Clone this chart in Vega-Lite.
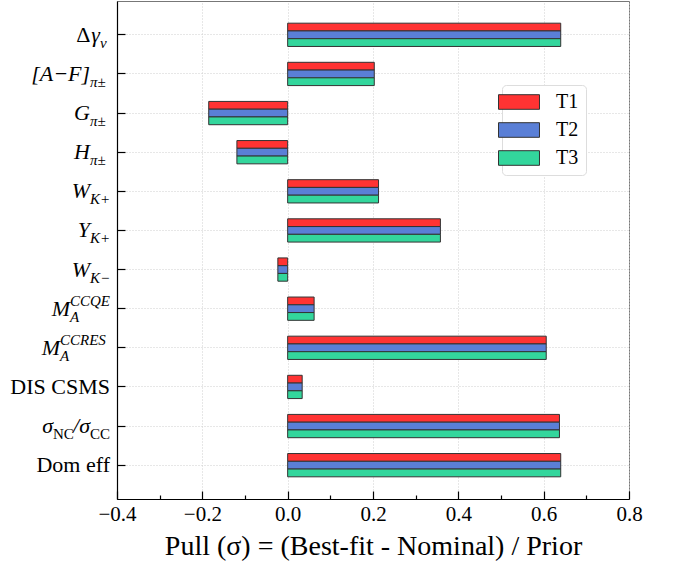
{
  "$schema": "https://vega.github.io/schema/vega-lite/v6.json",
  "width": 512,
  "height": 498,
  "autosize": {"type": "none"},
  "padding": {"left": 117, "top": 1, "right": 47, "bottom": 62},
  "background": "white",
  "config": {
    "font": "Liberation Serif, Times New Roman, Times, serif",
    "view": {"stroke": "#777777", "strokeWidth": 1},
    "axis": {
      "domainColor": "black",
      "domainWidth": 1.2,
      "tickColor": "black",
      "tickWidth": 1.2,
      "labelColor": "black",
      "titleColor": "black",
      "labelFont": "Liberation Serif, Times New Roman, Times, serif",
      "titleFont": "Liberation Serif, Times New Roman, Times, serif",
      "gridColor": "#cfcfcf",
      "gridDash": [1, 2],
      "gridWidth": 1
    },
    "legend": {"labelFont": "Liberation Serif, Times New Roman, Times, serif"},
    "text": {"font": "Liberation Serif, Times New Roman, Times, serif"}
  },
  "datasets": {
    "pulls": [
      {"param": "dgamma_nu", "series": "T1", "pull": 0.640},
      {"param": "dgamma_nu", "series": "T2", "pull": 0.640},
      {"param": "dgamma_nu", "series": "T3", "pull": 0.640},
      {"param": "AF_pi", "series": "T1", "pull": 0.203},
      {"param": "AF_pi", "series": "T2", "pull": 0.203},
      {"param": "AF_pi", "series": "T3", "pull": 0.203},
      {"param": "G_pi", "series": "T1", "pull": -0.185},
      {"param": "G_pi", "series": "T2", "pull": -0.185},
      {"param": "G_pi", "series": "T3", "pull": -0.185},
      {"param": "H_pi", "series": "T1", "pull": -0.119},
      {"param": "H_pi", "series": "T2", "pull": -0.119},
      {"param": "H_pi", "series": "T3", "pull": -0.119},
      {"param": "W_Kplus", "series": "T1", "pull": 0.213},
      {"param": "W_Kplus", "series": "T2", "pull": 0.213},
      {"param": "W_Kplus", "series": "T3", "pull": 0.213},
      {"param": "Y_Kplus", "series": "T1", "pull": 0.358},
      {"param": "Y_Kplus", "series": "T2", "pull": 0.358},
      {"param": "Y_Kplus", "series": "T3", "pull": 0.358},
      {"param": "W_Kminus", "series": "T1", "pull": -0.023},
      {"param": "W_Kminus", "series": "T2", "pull": -0.023},
      {"param": "W_Kminus", "series": "T3", "pull": -0.023},
      {"param": "MA_CCQE", "series": "T1", "pull": 0.062},
      {"param": "MA_CCQE", "series": "T2", "pull": 0.062},
      {"param": "MA_CCQE", "series": "T3", "pull": 0.062},
      {"param": "MA_CCRES", "series": "T1", "pull": 0.606},
      {"param": "MA_CCRES", "series": "T2", "pull": 0.606},
      {"param": "MA_CCRES", "series": "T3", "pull": 0.606},
      {"param": "DIS_CSMS", "series": "T1", "pull": 0.034},
      {"param": "DIS_CSMS", "series": "T2", "pull": 0.034},
      {"param": "DIS_CSMS", "series": "T3", "pull": 0.034},
      {"param": "NC_CC", "series": "T1", "pull": 0.637},
      {"param": "NC_CC", "series": "T2", "pull": 0.637},
      {"param": "NC_CC", "series": "T3", "pull": 0.637},
      {"param": "Dom_eff", "series": "T1", "pull": 0.640},
      {"param": "Dom_eff", "series": "T2", "pull": 0.640},
      {"param": "Dom_eff", "series": "T3", "pull": 0.640}
    ],
    "names": [
      {"param": "dgamma_nu", "pre": "Δ", "base": "γ", "sub": "ν", "sup": "", "base2": "", "sub2": ""},
      {"param": "AF_pi", "pre": "", "base": "[A−F]", "sub": "π±", "sup": "", "base2": "", "sub2": ""},
      {"param": "G_pi", "pre": "", "base": "G", "sub": "π±", "sup": "", "base2": "", "sub2": ""},
      {"param": "H_pi", "pre": "", "base": "H", "sub": "π±", "sup": "", "base2": "", "sub2": ""},
      {"param": "W_Kplus", "pre": "", "base": "W", "sub": "K+", "sup": "", "base2": "", "sub2": ""},
      {"param": "Y_Kplus", "pre": "", "base": "Y", "sub": "K+", "sup": "", "base2": "", "sub2": ""},
      {"param": "W_Kminus", "pre": "", "base": "W", "sub": "K−", "sup": "", "base2": "", "sub2": ""},
      {"param": "MA_CCQE", "pre": "", "base": "M", "sub": "A", "sup": "CCQE", "base2": "", "sub2": ""},
      {"param": "MA_CCRES", "pre": "", "base": "M", "sub": "A", "sup": "CCRES", "base2": "", "sub2": ""},
      {"param": "DIS_CSMS", "pre": "", "base": "DIS CSMS", "sub": "", "sup": "", "base2": "", "sub2": ""},
      {"param": "NC_CC", "pre": "", "base": "σ", "sub": "NC", "sup": "", "base2": "/σ", "sub2": "CC"},
      {"param": "Dom_eff", "pre": "", "base": "Dom eff", "sub": "", "sup": "", "base2": "", "sub2": ""}
    ]
  },
  "encoding": {
    "y": {
      "field": "param",
      "type": "nominal",
      "sort": ["dgamma_nu", "AF_pi", "G_pi", "H_pi", "W_Kplus", "Y_Kplus", "W_Kminus", "MA_CCQE", "MA_CCRES", "DIS_CSMS", "NC_CC", "Dom_eff"],
      "scale": {"paddingInner": 0.405, "paddingOuter": 0.567},
      "axis": {
        "title": null,
        "labels": false,
        "ticks": true,
        "tickSize": -8,
        "grid": true,
        "domain": true
      }
    }
  },
  "layer": [
    {
      "data": {"name": "pulls"},
      "mark": {"type": "bar", "stroke": "#333333", "strokeWidth": 1},
      "encoding": {
        "yOffset": {"field": "series", "type": "nominal", "sort": ["T1", "T2", "T3"], "scale": {"paddingInner": 0, "paddingOuter": 0}},
        "x": {
          "field": "pull",
          "type": "quantitative",
          "scale": {"domain": [-0.4, 0.8], "nice": false, "zero": false},
          "axis": {
            "title": "Pull (σ) = (Best-fit - Nominal) / Prior",
            "titleFontSize": 28,
            "titleFontWeight": "normal",
            "titlePadding": 4,
            "values": [-0.4, -0.3, -0.2, -0.1, 0, 0.1, 0.2, 0.3, 0.4, 0.5, 0.6, 0.7, 0.8],
            "labelExpr": "round(datum.value * 10) % 2 != 0 ? '' : format(datum.value, '.1f')",
            "labelFontSize": 21,
            "labelPadding": 12,
            "labelFlush": false,
            "labelOverlap": false,
            "tickSize": {"condition": {"test": "round(datum.value * 10) % 2 != 0", "value": -4}, "value": -8},
            "gridOpacity": {"condition": {"test": "round(datum.value * 10) % 2 != 0", "value": 0}, "value": 1},
            "grid": true
          }
        },
        "color": {
          "field": "series",
          "type": "nominal",
          "scale": {"domain": ["T1", "T2", "T3"], "range": ["#ff3333", "#5a7fd6", "#33d69c"]},
          "legend": {
            "title": null,
            "orient": "none",
            "legendX": 385,
            "legendY": 84,
            "padding": 7,
            "fillColor": "white",
            "strokeColor": "#dddddd",
            "cornerRadius": 4,
            "symbolType": "M-2.733,-0.973L2.733,-0.973L2.733,0.973L-2.733,0.973Z",
            "symbolSize": 225,
            "symbolStrokeColor": "#333333",
            "symbolStrokeWidth": 1,
            "symbolOpacity": 1,
            "labelFontSize": 20,
            "labelColor": "black",
            "labelOffset": 27,
            "rowPadding": 8
          }
        }
      }
    },
    {
      "mark": {"type": "rule", "color": "black", "strokeWidth": 1.5},
      "encoding": {"x": {"datum": 0, "type": "quantitative"}, "y": null}
    },
    {
      "data": {"name": "names"},
      "mark": {
        "type": "text",
        "align": "right",
        "baseline": "middle",
        "fontSize": 22,
        "color": "black",
        "fontStyle": {"expr": "datum.sub == '' && datum.sup == '' ? 'normal' : 'italic'"},
        "dx": {"expr": "-7 - 10 * length(datum.sub2) - 8.5 * length(datum.base2) - 10 * max(length(datum.sub), length(datum.sup))"}
      },
      "encoding": {"x": {"datum": -0.4, "type": "quantitative"}, "text": {"field": "base"}}
    },
    {
      "data": {"name": "names"},
      "mark": {
        "type": "text",
        "align": "right",
        "baseline": "middle",
        "fontSize": 22,
        "color": "black",
        "dx": {"expr": "-7 - 10 * length(datum.sub2) - 8.5 * length(datum.base2) - 10 * max(length(datum.sub), length(datum.sup)) - 9.5 * length(datum.base)"}
      },
      "encoding": {"x": {"datum": -0.4, "type": "quantitative"}, "text": {"field": "pre"}}
    },
    {
      "data": {"name": "names"},
      "mark": {
        "type": "text",
        "align": "left",
        "baseline": "middle",
        "fontSize": 15,
        "dy": 8,
        "color": "black",
        "fontStyle": {"expr": "datum.sub2 != '' ? 'normal' : 'italic'"},
        "dx": {"expr": "-7 - 10 * length(datum.sub2) - 8.5 * length(datum.base2) - 10 * max(length(datum.sub), length(datum.sup))"}
      },
      "encoding": {"x": {"datum": -0.4, "type": "quantitative"}, "text": {"field": "sub"}}
    },
    {
      "data": {"name": "names"},
      "mark": {
        "type": "text",
        "align": "left",
        "baseline": "middle",
        "fontSize": 15,
        "dy": -8,
        "color": "black",
        "fontStyle": "italic",
        "dx": {"expr": "-7 - 10 * length(datum.sub2) - 8.5 * length(datum.base2) - 10 * max(length(datum.sub), length(datum.sup))"}
      },
      "encoding": {"x": {"datum": -0.4, "type": "quantitative"}, "text": {"field": "sup"}}
    },
    {
      "data": {"name": "names"},
      "mark": {
        "type": "text",
        "align": "right",
        "baseline": "middle",
        "fontSize": 22,
        "color": "black",
        "fontStyle": "italic",
        "dx": {"expr": "-7 - 10 * length(datum.sub2)"}
      },
      "encoding": {"x": {"datum": -0.4, "type": "quantitative"}, "text": {"field": "base2"}}
    },
    {
      "data": {"name": "names"},
      "mark": {
        "type": "text",
        "align": "right",
        "baseline": "middle",
        "fontSize": 15,
        "dy": 8,
        "color": "black",
        "dx": -7
      },
      "encoding": {"x": {"datum": -0.4, "type": "quantitative"}, "text": {"field": "sub2"}}
    }
  ]
}
